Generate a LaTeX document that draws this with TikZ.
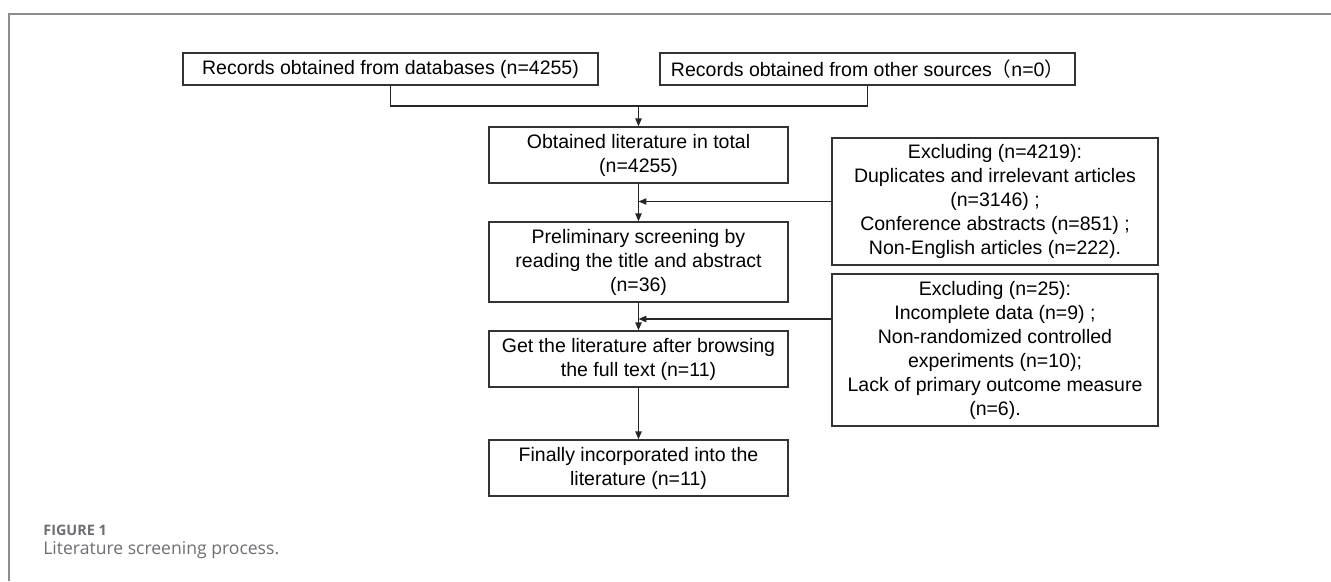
\documentclass[tikz,border=0pt]{standalone}
\usepackage{fontspec}
\setmainfont{Liberation Sans}
\newfontfamily\capfont{Open Sans}
\newfontfamily\cjk{Noto Sans CJK SC}
\usetikzlibrary{arrows.meta}
\definecolor{capgray}{HTML}{6D6E71}
\definecolor{framegray}{HTML}{8C8C8C}
\tikzset{
	box/.style = {draw=black!80, line width=0.8pt, align=center, inner sep=0pt,
		font=\fontsize{11.1}{13.66}\selectfont},
	flow/.style = {-{Triangle[length=4.5pt,width=3.6pt]}, line width=0.8pt, draw=black!85},
	link/.style = {line width=0.8pt, draw=black!85}
}

\begin{document}
\begin{tikzpicture}

	\useasboundingbox (0,0) rectangle (26.62,11.62);

	% frame
	\draw[framegray, line width=0.8pt] (0.18,0) -- (0.18,11.34) -- (26.62,11.34);

	\node[box, minimum width=8.3cm, minimum height=0.64cm] (db) at (7.81,10.24)
		{Records obtained from databases (n=4255)};
	\node[box, minimum width=8.3cm, minimum height=0.64cm] (other) at (17.35,10.24)
		{Records obtained from other sources{\cjk （}n=0{\cjk ）}};

	\node[box, minimum width=5.98cm, minimum height=1.12cm] (obtained) at (12.77,8.52)
		{Obtained literature in total\\(n=4255)};
	\node[box, minimum width=5.98cm, minimum height=1.6cm] (prelim) at (12.77,6.38)
		{Preliminary screening by\\reading the title and abstract\\(n=36)};
	\node[box, minimum width=5.98cm, minimum height=1.12cm] (fulltext) at (12.77,4.44)
		{Get the literature after browsing\\the full text (n=11)};
	\node[box, minimum width=5.98cm, minimum height=1.12cm] (final) at (12.77,2.26)
		{Finally incorporated into the\\literature (n=11)};

	\node[box, minimum width=6.52cm, minimum height=2.54cm] (excl1) at (19.9,7.59)
		{Excluding (n=4219):\\Duplicates and irrelevant articles\\(n=3146) ;\\Conference abstracts (n=851) ;\\Non-English articles (n=222).};
	\node[box, minimum width=6.52cm, minimum height=3.04cm] (excl2) at (19.9,4.62)
		{Excluding (n=25):\\Incomplete data (n=9) ;\\Non-randomized controlled\\experiments (n=10);\\Lack of primary outcome measure\\(n=6).};

	% connectors
	\coordinate (join) at (12.77,9.5);
	\coordinate (cut2) at (12.77,5.24);
	\path (obtained.south |- excl1.west) coordinate (cut1);
	\path (excl2.west |- cut2) coordinate (out2);

	\draw[link] (db.south) |- (join) -| (other.south);
	\draw[flow] (join) -- (obtained.north);
	\draw[flow] (obtained) -- (prelim);
	\draw[flow] (prelim) -- (fulltext);
	\draw[flow] (fulltext) -- (final);
	\draw[flow] (excl1.west) -- (cut1);
	\draw[flow] (out2) -- (cut2);

	% caption
	\node[anchor=west, inner sep=0pt, text=capgray, font=\capfont\bfseries\fontsize{8.2}{10}\selectfont] (fig) at (0.86,1.02) {FIGURE 1};
	\node[anchor=west, inner sep=0pt, text=capgray, font=\capfont\fontsize{10}{12}\selectfont] (caption) at (0.86,0.62) {Literature screening process.};

\end{tikzpicture}
\end{document}
